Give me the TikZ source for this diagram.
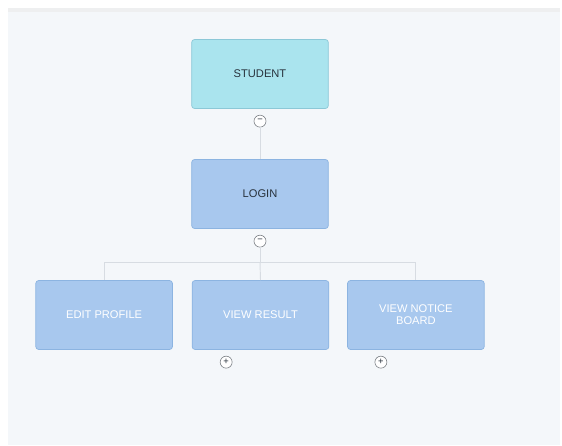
\documentclass[tikz,border=0pt]{standalone}
\usepackage{fontspec}
\setmainfont{Liberation Sans}
\usetikzlibrary{positioning}
\definecolor{panel}{RGB}{244,247,250}
\definecolor{bandgrey}{RGB}{238,239,240}
\definecolor{studcyan}{RGB}{170,228,238}
\definecolor{studedge}{RGB}{140,200,215}
\definecolor{boxblue}{RGB}{168,200,238}
\definecolor{boxedge}{RGB}{140,180,225}
\definecolor{darktext}{RGB}{40,50,60}
\definecolor{linkgrey}{RGB}{215,220,226}
\definecolor{togglegrey}{RGB}{120,125,130}

\begin{document}
\begin{tikzpicture}[x=0.03cm,y=-0.03cm,
    box/.style={rectangle, rounded corners=2.5pt, fill=boxblue, draw=boxedge, line width=0.6pt,
        minimum width=4.1cm, minimum height=2.07cm, align=center, inner sep=2pt,
        font=\fontsize{9.5}{10.5}\selectfont},
    toggle/.style={circle, draw=togglegrey, fill=white, line width=0.5pt,
        minimum size=0.36cm, inner sep=0pt, text=darktext, font=\fontsize{8}{8}\selectfont},
    link/.style={draw=linkgrey, line width=0.8pt}]

    % fond
    \fill[white] (0,0) rectangle (562,445);
    \fill[panel] (8,10) rectangle (560,445);
    \fill[bandgrey] (8,8) rectangle (560,12);

    % boites
    \node[box, fill=studcyan, draw=studedge, text=darktext] (student) at (260,74) {STUDENT};
    \node[box, text=darktext] (login) at (260,194) {LOGIN};
    \node[box, text=white] (result) at (260.5,315) {VIEW RESULT};
    \node[box, text=white, left=0.57cm of result] (profile) {EDIT PROFILE};
    \node[box, text=white, right=0.54cm of result] (notice) {VIEW NOTICE\\BOARD};

    % boutons
    \node[toggle, below=0.18cm of student] (studtoggle) {−};
    \node[toggle, below=0.18cm of login] (logtoggle) {−};
    \node[toggle, below=0.18cm of result, xshift=-1.03cm] (restoggle) {+};
    \node[toggle, below=0.18cm of notice, xshift=-1.05cm] (notoggle) {+};

    % liens
    \coordinate (fork) at (260,262);
    \draw[link] (studtoggle) -- (login);
    \draw[link] (logtoggle) -- (fork);
    \draw[link] (profile.north) -- (profile.north |- fork) -- (notice.north |- fork) -- (notice.north);
    \draw[link] (fork) -- (result.north);
\end{tikzpicture}
\end{document}
